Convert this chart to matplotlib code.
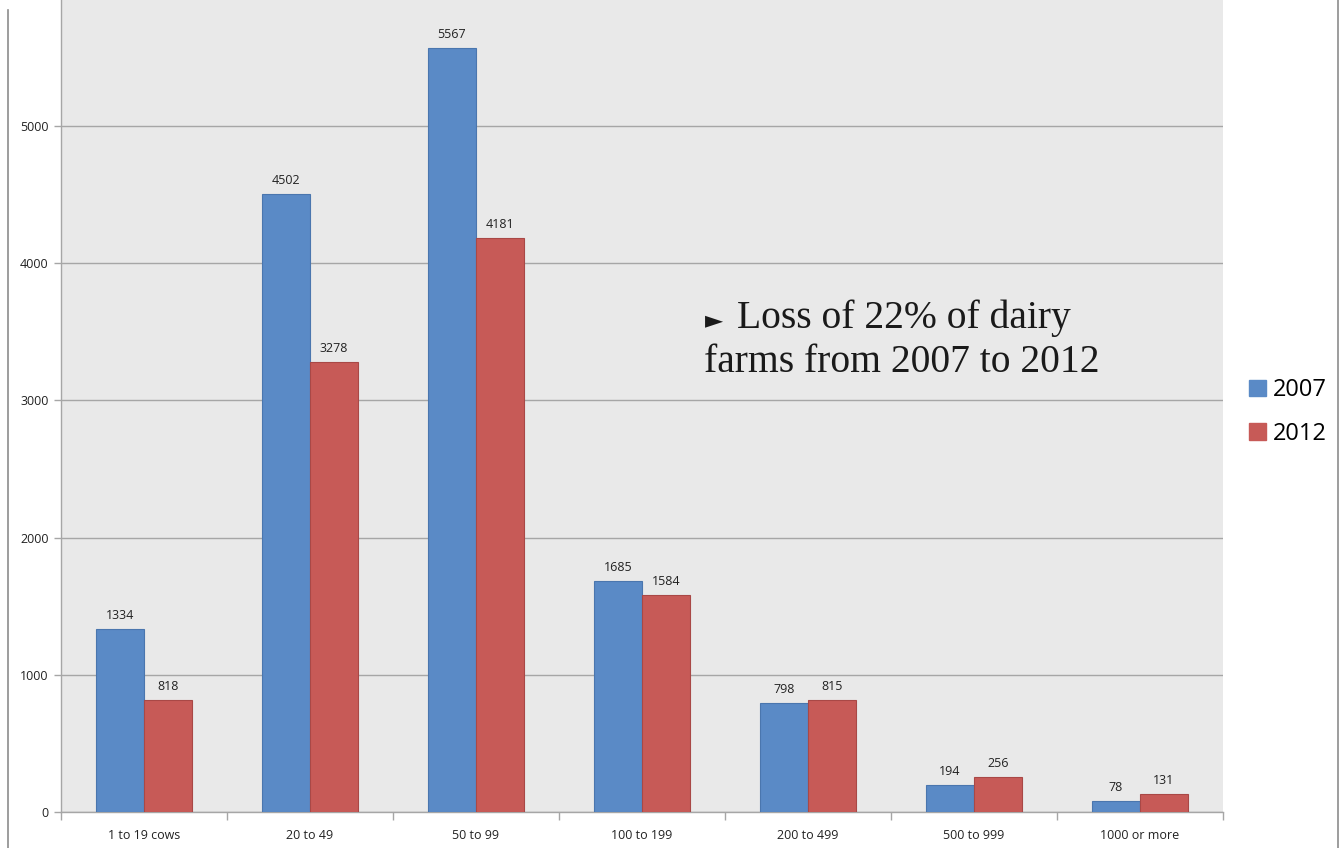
import matplotlib
matplotlib.use("Agg")
import matplotlib.pyplot as plt
import numpy as np
from matplotlib.lines import Line2D
from matplotlib.patches import Patch

categories = ["1 to 19 cows", "20 to 49", "50 to 99", "100 to 199", "200 to 499", "500 to 999", "1000 or more"]
series_names = ["2007", "2012"]
values_2007 = [1334, 4502, 5567, 1685, 798, 194, 78]
values_2012 = [818, 3278, 4181, 1584, 815, 256, 131]
y_ticks = [0, 1000, 2000, 3000, 4000, 5000]

blue = "#5A8AC6"
red = "#C75A57"
blue_edge = "#4A76AE"
red_edge = "#A94846"
grid_c = "#A6A6A6"

W, H = 1340, 848
fig = plt.figure(figsize=(W / 100, H / 100), dpi=100)
fig.patch.set_facecolor("white")
ax = fig.add_axes([61 / W, (H - 812) / H, (1223 - 61) / W, 812 / H])
ax.set_facecolor("#E9E9E9")

x = np.arange(len(categories))
bw = 48 / 166
ax.bar(x - bw / 2, values_2007, bw, color=blue, edgecolor=blue_edge, linewidth=0.8, zorder=3)
ax.bar(x + bw / 2, values_2012, bw, color=red, edgecolor=red_edge, linewidth=0.8, zorder=3)

for xi, v in zip(x - bw / 2, values_2007):
    ax.annotate(str(v), (xi, v), xytext=(0, 7), textcoords="offset pixels",
                ha="center", va="bottom", fontsize=9, family="Open Sans", color="#222222")
for xi, v in zip(x + bw / 2, values_2012):
    ax.annotate(str(v), (xi, v), xytext=(0, 7), textcoords="offset pixels",
                ha="center", va="bottom", fontsize=9, family="Open Sans", color="#222222")

ax.set_xlim(-0.5, len(categories) - 0.5)
ax.set_ylim(0, 812 / 137.2 * 1000)
ax.set_yticks(y_ticks)
ax.set_yticklabels([str(t) for t in y_ticks], fontsize=9, family="Open Sans", color="#222222")
ax.yaxis.grid(True, color=grid_c, linewidth=1.0, zorder=0)
ax.set_axisbelow(True)

ax.set_xticks(x)
ax.set_xticklabels(categories, fontsize=9, family="Open Sans", color="#222222")
ax.tick_params(axis="x", length=0, pad=12)
ax.set_xticks(np.arange(-0.5, len(categories)), minor=True)
ax.tick_params(axis="x", which="minor", length=6, color=grid_c, width=1)
ax.tick_params(axis="y", length=5, color=grid_c, width=1, pad=4)

for s in ["top", "right"]:
    ax.spines[s].set_visible(False)
for s in ["left", "bottom"]:
    ax.spines[s].set_color(grid_c)
    ax.spines[s].set_linewidth(1.0)

# annotation
fig.text(705 / W, 1 - 327 / H, "\u25BA", fontsize=17, family=["DejaVu Serif"], color="#1a1a1a",
         ha="left", va="baseline")
fig.text(737 / W, 1 - 328 / H, "Loss of 22% of dairy", fontsize=28.5, family=["Liberation Serif"],
         color="#1a1a1a", ha="left", va="baseline")
fig.text(704 / W, 1 - 372 / H, "farms from 2007 to 2012", fontsize=28.5, family=["Liberation Serif"],
         color="#1a1a1a", ha="left", va="baseline")

handles = [Patch(facecolor=blue, edgecolor=blue), Patch(facecolor=red, edgecolor=red)]
fig.legend(handles, series_names, loc="center left", bbox_to_anchor=(1249 / W, 1 - 412 / H),
           frameon=False, prop={"family": "Open Sans", "size": 17}, handlelength=0.7,
           handleheight=0.7, handletextpad=0.3, labelspacing=0.83, borderpad=0, borderaxespad=0)

# outer frame lines
fig.add_artist(Line2D([8 / W, 8 / W], [0, 1 - 10 / H], color="#8C8C8C", linewidth=1.2))
fig.add_artist(Line2D([1338 / W, 1338 / W], [0, 1], color="#8C8C8C", linewidth=1.2))

fig.savefig("out.png", dpi=100, facecolor="white")
